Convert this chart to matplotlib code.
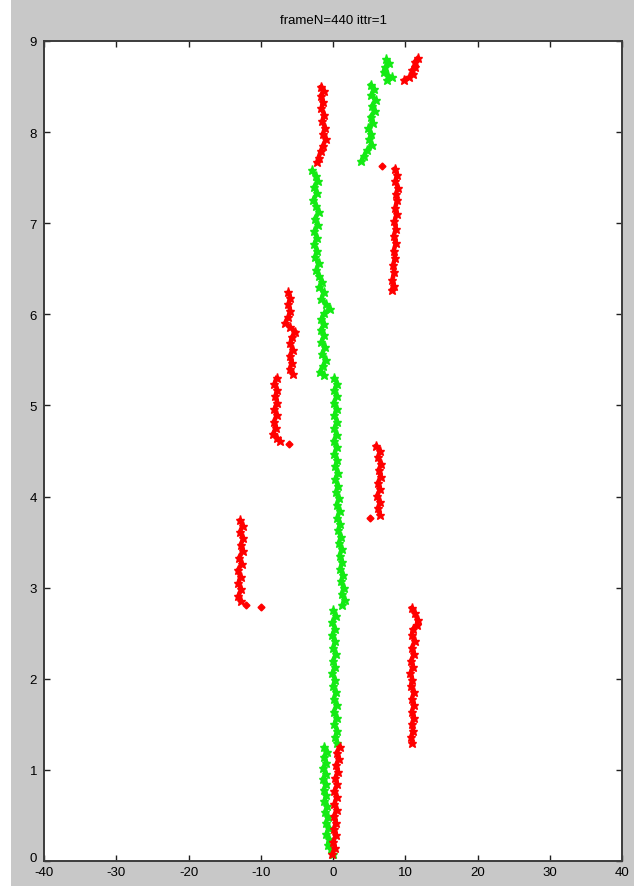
import matplotlib
matplotlib.use("Agg")
import matplotlib.pyplot as plt
import matplotlib.transforms as mtransforms
from matplotlib.patches import Rectangle

plt.rcParams['font.family'] = ['Liberation Sans', 'DejaVu Sans']
plt.rcParams['axes.unicode_minus'] = False

# tracked segments, each as (x, y) points
red_1 = [(-1.6, 8.50), (-1.3, 8.45), (-1.7, 8.40), (-1.4, 8.33), (-1.6, 8.26), (-1.2, 8.19),
         (-1.5, 8.12), (-1.1, 8.05), (-1.4, 7.98), (-1.0, 7.92), (-1.4, 7.85), (-1.7, 7.79),
         (-2.0, 7.72), (-2.2, 7.67)]
red_2 = [(11.7, 8.81), (11.3, 8.77), (11.4, 8.72), (10.9, 8.68), (11.1, 8.64), (10.5, 8.60),
         (9.8, 8.57)]
red_3 = [(8.6, 7.60), (8.9, 7.53), (8.6, 7.46), (9.0, 7.39), (8.7, 7.32), (8.9, 7.25),
         (8.6, 7.17), (8.8, 7.10), (8.5, 7.02), (8.7, 6.94), (8.4, 6.86), (8.7, 6.78),
         (8.4, 6.70), (8.6, 6.62), (8.3, 6.54), (8.5, 6.46), (8.2, 6.38), (8.4, 6.31),
         (8.1, 6.27)]
red_4 = [(-6.2, 6.24), (-5.9, 6.18), (-6.2, 6.11), (-5.9, 6.04), (-6.2, 5.97), (-6.6, 5.91),
         (-6.0, 5.86), (-5.2, 5.81), (-5.7, 5.75), (-5.9, 5.68), (-5.6, 5.61), (-6.0, 5.54),
         (-5.7, 5.47), (-6.0, 5.40), (-5.6, 5.35)]
red_5 = [(-7.8, 5.30), (-8.1, 5.24), (-7.7, 5.17), (-8.0, 5.10), (-7.7, 5.03), (-8.1, 4.96),
         (-7.8, 4.89), (-8.2, 4.82), (-7.9, 4.75), (-8.3, 4.69), (-7.8, 4.64), (-7.4, 4.61)]
red_6 = [(6.0, 4.56), (6.5, 4.50), (6.2, 4.43), (6.7, 4.36), (6.3, 4.29), (6.6, 4.22),
         (6.2, 4.15), (6.5, 4.08), (6.1, 4.01), (6.5, 3.94), (6.2, 3.87), (6.5, 3.80)]
red_7 = [(-12.9, 3.74), (-12.5, 3.68), (-12.9, 3.61), (-12.4, 3.54), (-12.8, 3.47),
         (-12.5, 3.40), (-13.0, 3.33), (-12.6, 3.26), (-13.2, 3.19), (-12.8, 3.12),
         (-13.1, 3.05), (-12.7, 2.98), (-13.1, 2.91), (-12.8, 2.85)]
red_8 = [(10.9, 2.78), (11.3, 2.72), (11.7, 2.65), (11.6, 2.59), (11.1, 2.55), (10.9, 2.48),
         (11.3, 2.41), (10.9, 2.34), (11.2, 2.27), (10.8, 2.20), (11.1, 2.13), (10.7, 2.06),
         (11.0, 1.99), (10.8, 1.92), (11.2, 1.85), (10.9, 1.78), (11.2, 1.71), (10.9, 1.64),
         (11.2, 1.57), (10.9, 1.50), (11.1, 1.43), (10.8, 1.36), (11.0, 1.30)]
red_9 = [(0.9, 1.25), (0.5, 1.19), (0.8, 1.12), (0.4, 1.05), (0.7, 0.98), (0.3, 0.91),
         (0.6, 0.84), (0.2, 0.77), (0.5, 0.70), (0.2, 0.63), (0.5, 0.56), (0.1, 0.49),
         (0.4, 0.42), (0.1, 0.35), (0.4, 0.28), (0.0, 0.21), (0.3, 0.14), (-0.1, 0.08)]
red_loose = [(6.8, 7.63), (-6.1, 4.58), (5.1, 3.77), (-12.0, 2.81), (-10.0, 2.79)]

green_1 = [(7.4, 8.80), (7.8, 8.76), (7.2, 8.71), (7.0, 8.66), (7.6, 8.62), (8.2, 8.60),
           (7.5, 8.57)]
green_2 = [(5.2, 8.52), (5.7, 8.47), (5.3, 8.41), (5.9, 8.35), (5.4, 8.29), (5.8, 8.23),
           (5.2, 8.17), (5.5, 8.10), (4.9, 8.04), (5.3, 7.98), (5.0, 7.92), (5.4, 7.86),
           (4.7, 7.80), (4.3, 7.74), (3.9, 7.68)]
green_3 = [(-2.9, 7.58), (-2.4, 7.52), (-2.1, 7.46), (-2.6, 7.40), (-2.2, 7.33), (-2.7, 7.26),
           (-2.3, 7.19), (-2.0, 7.12), (-2.5, 7.05), (-2.1, 6.98), (-2.6, 6.91), (-2.2, 6.84),
           (-2.6, 6.77), (-2.2, 6.70), (-2.5, 6.63), (-2.0, 6.56), (-2.3, 6.49), (-1.9, 6.42),
           (-1.5, 6.36), (-1.9, 6.30), (-1.3, 6.24), (-1.6, 6.17), (-0.9, 6.11), (-0.4, 6.06),
           (-1.2, 6.01), (-1.6, 5.95), (-1.2, 5.89), (-1.7, 5.83), (-1.2, 5.77), (-1.6, 5.70),
           (-1.1, 5.64), (-1.5, 5.57), (-1.0, 5.50), (-1.4, 5.43), (-1.8, 5.37), (-1.3, 5.33)]
green_4 = [(0.2, 5.30), (0.6, 5.24), (0.2, 5.17), (0.5, 5.10), (0.1, 5.03), (0.5, 4.96),
           (0.2, 4.89), (0.6, 4.82), (0.2, 4.75), (0.5, 4.68), (0.1, 4.61), (0.5, 4.54),
           (0.2, 4.47), (0.6, 4.40), (0.3, 4.33), (0.7, 4.26), (0.3, 4.19), (0.7, 4.12),
           (0.4, 4.05), (0.8, 3.98), (0.5, 3.91), (0.9, 3.84), (0.6, 3.77), (1.0, 3.70),
           (0.7, 3.63), (1.1, 3.56), (0.8, 3.49), (1.2, 3.42), (0.9, 3.35), (1.3, 3.28),
           (1.0, 3.21), (1.4, 3.14), (1.1, 3.07), (1.5, 3.00), (1.2, 2.93), (1.6, 2.87),
           (1.3, 2.81)]
green_5 = [(0.0, 2.75), (0.4, 2.69), (-0.1, 2.62), (0.3, 2.55), (-0.1, 2.48), (0.3, 2.41),
           (0.0, 2.34), (0.4, 2.27), (0.0, 2.20), (0.3, 2.13), (-0.1, 2.06), (0.3, 1.99),
           (0.0, 1.92), (0.4, 1.85), (0.1, 1.78), (0.5, 1.71), (0.1, 1.64), (0.5, 1.57),
           (0.2, 1.50), (0.6, 1.43), (0.3, 1.36), (0.6, 1.30)]
green_6 = [(-1.2, 1.25), (-0.8, 1.20), (-1.3, 1.14), (-0.9, 1.08), (-1.4, 1.02), (-1.0, 0.96),
           (-1.4, 0.90), (-1.0, 0.84), (-1.3, 0.78), (-0.9, 0.72), (-1.2, 0.66), (-0.8, 0.60),
           (-1.1, 0.54), (-0.7, 0.48), (-1.0, 0.42), (-0.6, 0.36), (-0.9, 0.30), (-0.5, 0.24),
           (-0.7, 0.18), (-0.3, 0.13), (0.0, 0.08)]

red_tracks = [red_1, red_2, red_3, red_4, red_5, red_6, red_7, red_8, red_9]
green_tracks = [green_1, green_2, green_3, green_4, green_5, green_6]

x_ticks = [-40, -30, -20, -10, 0, 10, 20, 30, 40]
y_ticks = [0, 1, 2, 3, 4, 5, 6, 7, 8, 9]

RED = '#ff0000'
GREEN = '#14ea14'

fig = plt.figure(figsize=(6.34, 8.87), dpi=100, facecolor='#c8c8c8')
# white strip along the left edge
fig.patches.append(Rectangle((0, 0), 11 / 634, 1, transform=fig.transFigure,
                             facecolor='white', edgecolor='none', zorder=-1))
ax = fig.add_axes([44 / 634, 1 - 862 / 887, 578 / 634, 820 / 887])
ax.set_facecolor('white')

def draw_track(pts, color):
    xs = [p[0] for p in pts]
    ys = [p[1] for p in pts]
    ax.plot(xs, ys, color=color, lw=3.2, marker='*', ms=6.5, mec=color, mfc=color,
            solid_joinstyle='miter')

for t in green_tracks:
    draw_track(t, GREEN)
for t in red_tracks:
    draw_track(t, RED)
ax.plot([p[0] for p in red_loose], [p[1] for p in red_loose], ls='none',
        marker='D', ms=3.5, color=RED)

ax.set_xlim(-40, 40)
ax.set_ylim(0, 9)
ax.set_xticks(x_ticks)
ax.set_yticks(y_ticks)
ax.tick_params(direction='in', length=4, width=1, color='#202020', labelsize=9.5,
               top=True, right=True)
ax.tick_params(axis='x', pad=3.5)
ax.tick_params(axis='y', pad=5)
for s in ax.spines.values():
    s.set_color('#3c3c3c')
    s.set_linewidth(1.4)

# lift the bottom y label a little so it sits above the -40
fig.canvas.draw()
lbl0 = ax.get_yticklabels()[0]
lbl0.set_transform(lbl0.get_transform() +
                   mtransforms.ScaledTranslation(0, 3 / 72, fig.dpi_scale_trans))

ax.set_title('frameN=440 ittr=1', fontsize=9.5, pad=13)

fig.savefig('out.png', dpi=100, facecolor=fig.get_facecolor())
